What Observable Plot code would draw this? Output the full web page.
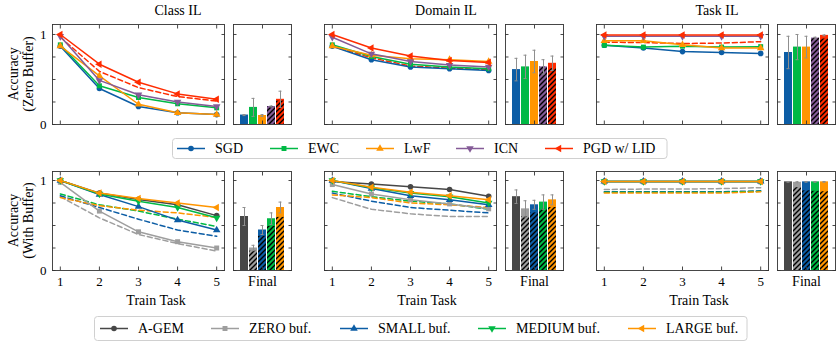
<!DOCTYPE html>
<html><head><meta charset="utf-8">
<script src="https://cdn.jsdelivr.net/npm/d3@7"></script>
<script src="https://cdn.jsdelivr.net/npm/@observablehq/plot@0.6"></script>
<style>
body{margin:0;background:#fff;}
#chart{position:relative;width:840px;height:347px;overflow:hidden;font-family:"Liberation Serif",serif;}
</style></head><body>
<svg width="0" height="0" style="position:absolute"><defs>
<pattern id="hatch" patternUnits="userSpaceOnUse" width="5" height="5">
<path d="M0,5 L5,0 M-1,1 L1,-1 M4,6 L6,4" stroke="#000" stroke-width="1.4"/>
</pattern></defs></svg>
<div id="chart"></div>
<script>
// ---------- data ----------
const tasks = [1, 2, 3, 4, 5];
const yTicks = [0, 0.25, 0.5, 0.75, 1];
const panelTitles = ["Class IL", "Domain IL", "Task IL"];
const topMethods = ["SGD", "EWC", "LwF", "ICN", "PGD w/ LID"];
const bottomMethods = ["A-GEM", "ZERO buf.", "SMALL buf.", "MEDIUM buf.", "LARGE buf."];

// Row 1: zero buffer (SGD, EWC, LwF, ICN, PGD w/ LID)
const zeroClassLines = [
  [0.87, 0.40, 0.20, 0.13, 0.11],
  [0.885, 0.43, 0.30, 0.23, 0.185],
  [0.87, 0.54, 0.225, 0.13, 0.11],
  [0.98, 0.49, 0.33, 0.25, 0.20],
  [1.00, 0.67, 0.47, 0.34, 0.28]
];
const zeroClassDashed = [0.97, 0.59, 0.41, 0.31, 0.26];
const zeroClassFinal = [0.105, 0.19, 0.10, 0.20, 0.28];
const zeroClassErr = [0.006, 0.10, 0.01, 0.006, 0.09];
const zeroClassHatched = [null, null, null, 0.20, 0.26];

const zeroDomainLines = [
  [0.87, 0.72, 0.64, 0.62, 0.60],
  [0.885, 0.755, 0.67, 0.64, 0.62],
  [0.87, 0.77, 0.73, 0.72, 0.70],
  [0.97, 0.785, 0.70, 0.66, 0.64],
  [1.00, 0.85, 0.76, 0.71, 0.69]
];
const zeroDomainDashed = [0.87, 0.74, 0.65, 0.625, 0.61];
const zeroDomainFinal = [0.61, 0.64, 0.70, 0.64, 0.68];
const zeroDomainErr = [0.125, 0.13, 0.125, 0.08, 0.08];
const zeroDomainHatched = [null, null, null, 0.64, 0.62];

const zeroTaskLines = [
  [0.88, 0.85, 0.81, 0.80, 0.79],
  [0.88, 0.86, 0.87, 0.86, 0.865],
  [0.93, 0.93, 0.885, 0.85, 0.85],
  [0.98, 0.98, 0.98, 0.98, 0.98],
  [0.995, 0.995, 0.995, 0.995, 0.995]
];
const zeroTaskDashed = [0.915, 0.91, 0.90, 0.905, 0.92];
const zeroTaskFinal = [0.80, 0.86, 0.86, 0.96, 0.99];
const zeroTaskErr = [0.18, 0.14, 0.12, 0.01, 0.005];
const zeroTaskHatched = [null, null, null, 0.96, 0.95];

// Row 2: with buffer (A-GEM, ZERO, SMALL, MEDIUM, LARGE); dashed = ZERO, SMALL, MEDIUM, LARGE
const bufClassLines = [
  [1.00, 0.86, 0.79, 0.73, 0.61],
  [0.98, 0.66, 0.43, 0.32, 0.25],
  [1.00, 0.845, 0.71, 0.56, 0.45],
  [1.00, 0.85, 0.77, 0.70, 0.585],
  [1.00, 0.86, 0.80, 0.75, 0.70]
];
const bufClassDashed = [
  [0.82, 0.585, 0.40, 0.30, 0.215],
  [0.83, 0.70, 0.57, 0.45, 0.38],
  [0.85, 0.73, 0.66, 0.57, 0.49],
  [0.81, 0.72, 0.67, 0.64, 0.59]
];
const bufClassFinal = [0.60, 0.25, 0.45, 0.575, 0.70];
const bufClassErr = [0.10, 0.03, 0.05, 0.065, 0.06];
const bufClassHatched = [null, 0.215, 0.38, 0.49, 0.59];

const bufDomainLines = [
  [0.99, 0.96, 0.93, 0.90, 0.825],
  [0.955, 0.85, 0.785, 0.74, 0.685],
  [1.00, 0.91, 0.83, 0.785, 0.73],
  [1.00, 0.92, 0.86, 0.82, 0.75],
  [1.00, 0.925, 0.87, 0.83, 0.785]
];
const bufDomainDashed = [
  [0.81, 0.68, 0.63, 0.60, 0.60],
  [0.86, 0.77, 0.70, 0.67, 0.64],
  [0.88, 0.82, 0.77, 0.74, 0.68],
  [0.84, 0.81, 0.75, 0.73, 0.70]
];
const bufDomainFinal = [0.82, 0.685, 0.73, 0.76, 0.785];
const bufDomainErr = [0.075, 0.09, 0.05, 0.08, 0.055];
const bufDomainHatched = [null, 0.60, 0.64, 0.68, 0.70];

const bufTaskLines = [
  [0.99, 0.99, 0.99, 0.99, 0.99],
  [0.985, 0.985, 0.985, 0.985, 0.985],
  [0.99, 0.99, 0.99, 0.99, 0.99],
  [0.99, 0.99, 0.99, 0.99, 0.99],
  [0.99, 0.99, 0.99, 0.99, 0.99]
];
const bufTaskDashed = [
  [0.90, 0.905, 0.905, 0.91, 0.92],
  [0.875, 0.875, 0.875, 0.875, 0.885],
  [0.87, 0.87, 0.87, 0.87, 0.88],
  [0.86, 0.86, 0.86, 0.86, 0.875]
];
const bufTaskFinal = [0.985, 0.98, 0.985, 0.985, 0.985];
const bufTaskErr = [0.004, 0.006, 0.004, 0.004, 0.004];
const bufTaskHatched = [null, 0.92, 0.885, 0.88, 0.875];

// ---------- style / layout ----------
const FONT = '"Liberation Serif", "DejaVu Serif", serif';
const COL = {blue: "#0C5DA5", green: "#00B945", orange: "#FF9500", purple: "#845B97", red: "#FF2C00", dark: "#474747", gray: "#9e9e9e"};
const topColors = [COL.blue, COL.green, COL.orange, COL.purple, COL.red];
const bottomColors = [COL.dark, COL.gray, COL.blue, COL.green, COL.orange];
const sqrt3 = Math.sqrt(3);
const triDown = {draw(c, s) { const y = -Math.sqrt(s / (sqrt3 * 3)); c.moveTo(0, -2 * y); c.lineTo(-sqrt3 * y, y); c.lineTo(sqrt3 * y, y); c.closePath(); }};
const triLeft = {draw(c, s) { const y = -Math.sqrt(s / (sqrt3 * 3)); c.moveTo(2 * y, 0); c.lineTo(-y, -sqrt3 * y); c.lineTo(-y, sqrt3 * y); c.closePath(); }};
const symbols = [d3.symbolCircle, d3.symbolSquare, d3.symbolTriangle, triDown, triLeft];

const lineLeft = [52, 324, 596], lineW = 172;
const barLeft = [233, 505, 777], barW = 58;
const rowTop = [24, 171], rowH = [100, 99];
const yDom = [[0, 1.111], [0, 1.1]];
const M = {l: 28, r: 6, t: 6, b: 26};
const FRAME = "#333";
const TICK = 3.5;
const R = 2.8;

const chart = document.getElementById("chart");
function place(opts, left, top) {
  const svg = Plot.plot(opts);
  svg.style.position = "absolute";
  svg.style.left = left + "px";
  svg.style.top = top + "px";
  svg.style.overflow = "visible";
  chart.appendChild(svg);
}
function tickMarks(xTicks) {
  const common = {tickSize: -TICK, tickFormat: () => "", label: null, stroke: FRAME, strokeWidth: 0.9};
  return [
    Plot.axisY({anchor: "left", ticks: yTicks, ...common}),
    Plot.axisY({anchor: "right", ticks: yTicks, ...common}),
    Plot.axisX({anchor: "bottom", ticks: xTicks, ...common}),
    Plot.axisX({anchor: "top", ticks: xTicks, ...common})
  ];
}
const baseStyle = {fontFamily: FONT, fontSize: "13px", background: "transparent", color: "#000"};

function linePanel(ci, ri, lines, dashed, colors, dashColors) {
  const h = rowH[ri];
  const marks = [];
  dashed.forEach((vals, k) => marks.push(Plot.line(vals, {x: (d, i) => tasks[i], y: d => d, stroke: dashColors[k], strokeWidth: 1.5, strokeDasharray: "5,3"})));
  lines.forEach((vals, k) => {
    marks.push(Plot.line(vals, {x: (d, i) => tasks[i], y: d => d, stroke: colors[k], strokeWidth: 1.5}));
    marks.push(Plot.dot(vals, {x: (d, i) => tasks[i], y: d => d, symbol: symbols[k], fill: colors[k], stroke: "none", r: R}));
  });
  marks.push(Plot.frame({stroke: FRAME, strokeWidth: 0.9}));
  marks.push(...tickMarks(tasks));
  if (ci === 0) marks.push(Plot.axisY({anchor: "left", ticks: [0, 1], tickSize: 0, tickPadding: 6, label: null, tickFormat: d => String(d), fontSize: 13}));
  if (ri === 1) marks.push(Plot.axisX({anchor: "bottom", ticks: tasks, tickSize: 0, tickPadding: 6, label: null, tickFormat: d => String(d), fontSize: 13}));
  place({
    width: lineW + M.l + M.r, height: h + M.t + M.b,
    marginLeft: M.l, marginRight: M.r, marginTop: M.t, marginBottom: M.b,
    x: {domain: [0.8, 5.2]}, y: {domain: yDom[ri]},
    style: baseStyle, marks
  }, lineLeft[ci] - M.l, rowTop[ri] - M.t);
}

function barPanel(ci, ri, methods, colors, finals, errs, hatched) {
  const h = rowH[ri];
  const rows = methods.map((m, i) => ({m, v: finals[i], lo: finals[i] - errs[i], hi: finals[i] + errs[i], c: colors[i]}));
  const hrows = methods.map((m, i) => ({m, v: hatched[i]})).filter(d => d.v != null);
  const marks = [
    Plot.barY(rows, {x: "m", y: "v", fill: "c"}),
    Plot.barY(hrows, {x: "m", y: "v", fill: "url(#hatch)"}),
    Plot.ruleX(rows, {x: "m", y1: "lo", y2: "hi", stroke: "#8f8f8f", strokeWidth: 1}),
    Plot.tickY(rows, {x: "m", y: "hi", stroke: "#8f8f8f", strokeWidth: 1, insetLeft: 2.5, insetRight: 2.5}),
    Plot.tickY(rows, {x: "m", y: "lo", stroke: "#8f8f8f", strokeWidth: 1, insetLeft: 2.5, insetRight: 2.5}),
    Plot.frame({stroke: FRAME, strokeWidth: 0.9}),
    ...tickMarks([methods[2]])
  ];
  if (ri === 1) marks.push(Plot.axisX({anchor: "bottom", ticks: [methods[2]], tickSize: 0, tickPadding: 6, label: null, tickFormat: () => "Final", fontSize: 14}));
  place({
    width: barW + M.l + M.r, height: h + M.t + M.b,
    marginLeft: M.l, marginRight: M.r, marginTop: M.t, marginBottom: M.b,
    x: {type: "band", domain: methods, paddingInner: 0.1, paddingOuter: 0.05, insetLeft: 4.5, insetRight: 4.5},
    y: {domain: yDom[ri]},
    color: {type: "identity"},
    style: baseStyle, marks
  }, barLeft[ci] - M.l, rowTop[ri] - M.t);
}

const dashTop = [COL.red];
linePanel(0, 0, zeroClassLines, [zeroClassDashed], topColors, dashTop);
linePanel(1, 0, zeroDomainLines, [zeroDomainDashed], topColors, dashTop);
linePanel(2, 0, zeroTaskLines, [zeroTaskDashed], topColors, dashTop);
barPanel(0, 0, topMethods, topColors, zeroClassFinal, zeroClassErr, zeroClassHatched);
barPanel(1, 0, topMethods, topColors, zeroDomainFinal, zeroDomainErr, zeroDomainHatched);
barPanel(2, 0, topMethods, topColors, zeroTaskFinal, zeroTaskErr, zeroTaskHatched);

const dashBottom = bottomColors.slice(1);
linePanel(0, 1, bufClassLines, bufClassDashed, bottomColors, dashBottom);
linePanel(1, 1, bufDomainLines, bufDomainDashed, bottomColors, dashBottom);
linePanel(2, 1, bufTaskLines, bufTaskDashed, bottomColors, dashBottom);
barPanel(0, 1, bottomMethods, bottomColors, bufClassFinal, bufClassErr, bufClassHatched);
barPanel(1, 1, bottomMethods, bottomColors, bufDomainFinal, bufDomainErr, bufDomainHatched);
barPanel(2, 1, bottomMethods, bottomColors, bufTaskFinal, bufTaskErr, bufTaskHatched);

// ---------- text & legends overlay ----------
const ov = d3.select("#chart").append("svg")
  .attr("width", 840).attr("height", 347)
  .style("position", "absolute").style("left", 0).style("top", 0)
  .style("pointer-events", "none")
  .style("font-family", FONT).style("font-size", "14px");

const titleX = [178, 446, 717];
panelTitles.forEach((t, i) => ov.append("text").attr("x", titleX[i]).attr("y", 15).attr("text-anchor", "middle").text(t));
const xLabelX = [156, 427, 699];
xLabelX.forEach(x => ov.append("text").attr("x", x).attr("y", 305).attr("text-anchor", "middle").text("Train Task"));

const yLab = [["Accuracy", "(Zero Buffer)"], ["Accuracy", "(With Buffer)"]];
yLab.forEach((lines, ri) => {
  const cy = rowTop[ri] + rowH[ri] / 2;
  lines.forEach((s, k) => ov.append("text")
    .attr("transform", `translate(${13 + k * 15},${cy}) rotate(-90)`)
    .attr("text-anchor", "middle").attr("dy", "0.35em").text(s));
});

function legend(box, cy, items, colors, xs) {
  ov.append("rect").attr("x", box[0]).attr("y", box[1]).attr("width", box[2] - box[0]).attr("height", box[3] - box[1])
    .attr("rx", 3).attr("fill", "#fff").attr("fill-opacity", 0.85).attr("stroke", "#d0d0d0").attr("stroke-width", 1);
  items.forEach((name, i) => {
    const x0 = xs[i];
    ov.append("line").attr("x1", x0).attr("x2", x0 + 28).attr("y1", cy).attr("y2", cy).attr("stroke", colors[i]).attr("stroke-width", 1.5);
    ov.append("path").attr("transform", `translate(${x0 + 14},${cy})`)
      .attr("d", d3.symbol().type(symbols[i]).size(R * R * Math.PI)()).attr("fill", colors[i]);
    ov.append("text").attr("x", x0 + 38).attr("y", cy).attr("dy", "0.35em").text(name);
  });
}
legend([172.5, 138.5, 667, 158.5], 148.5, topMethods, topColors, [177, 270, 366, 456, 545]);
legend([94.5, 316.5, 747, 340.5], 328.5, bottomMethods, bottomColors, [100, 211, 340, 478, 628]);
</script>
</body></html>
